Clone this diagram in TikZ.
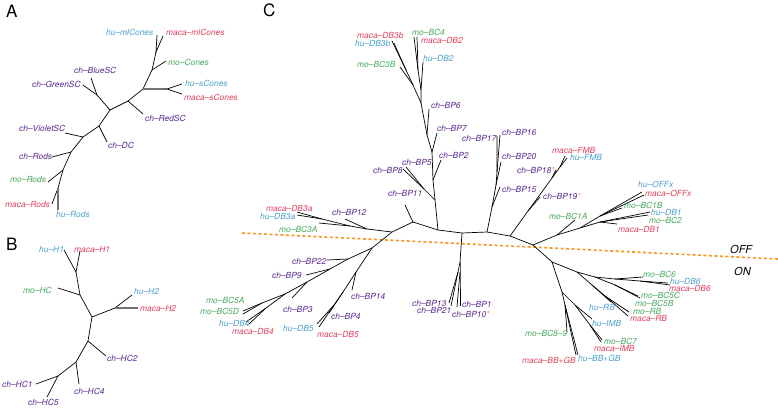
\documentclass[tikz,border=0pt]{standalone}
\usepackage{fontspec}
\newfontfamily\heros{TeX Gyre Heros}
\usepackage{tikz}
\definecolor{chcol}{RGB}{90,40,145}
\definecolor{hucol}{RGB}{75,160,205}
\definecolor{macacol}{RGB}{225,65,95}
\definecolor{mocol}{RGB}{70,170,95}
\definecolor{offon}{RGB}{247,150,30}
\newcommand\orast{\textcolor{offon}{*}}
\tikzset{
  br/.style={line width=0.7pt},
  gbr/.style={line width=2pt,draw=black!55},
  lab/.style={font=\heros\itshape\fontsize{8.4}{9}\selectfont,inner sep=0pt,anchor=west},
  chlab/.style={lab,text=chcol},
  hulab/.style={lab,text=hucol},
  macalab/.style={lab,text=macacol},
  molab/.style={lab,text=mocol},
  panel/.style={font=\heros\fontsize{17}{17}\selectfont,inner sep=0pt,anchor=north west},
  swlab/.style={font=\heros\itshape\fontsize{11}{11}\selectfont,inner sep=0pt,anchor=west},
  divide/.style={draw=offon,line width=1.6pt,dash pattern=on 3pt off 2.5pt},
}
\begin{document}
\begin{tikzpicture}[x=1pt,y=-1pt]
  \useasboundingbox (0,0) rectangle (778,408);

  % A
  \node[panel] (pA) at (6,5) {A};
  \coordinate (a1) at (156,52);
  \coordinate (a2) at (152,70);
  \coordinate (a3) at (143,89);
  \coordinate (a4) at (167,89);
  \coordinate (a5) at (128,101);
  \coordinate (a6) at (110,110);
  \coordinate (a7) at (97,95);
  \coordinate (a8) at (99,126);
  \coordinate (a9) at (83,137);
  \coordinate (a10) at (71,152);
  \coordinate (a11) at (63,170);
  \coordinate (a12) at (58,188);
  \coordinate (t-humlc) at (157,35);
  \coordinate (t-macamlc) at (163,36);
  \coordinate (t-mocones) at (166,61);
  \coordinate (t-huscones) at (182,84);
  \coordinate (t-macascones) at (182,94);
  \coordinate (t-redsc) at (143,114);
  \coordinate (t-bluesc) at (91,78);
  \coordinate (t-greensc) at (83,85);
  \coordinate (t-dc) at (107,142);
  \coordinate (t-violetsc) at (65,133);
  \coordinate (t-chrods) at (52,157);
  \coordinate (t-morods) at (48,182);
  \coordinate (t-macarods) at (52,204);
  \coordinate (t-hurods) at (58,210);
  \draw[br] (t-humlc) -- (a1) -- (t-macamlc);
  \draw[br] (a1) -- (a2) -- (a3) -- (a5) -- (a6) -- (a8) -- (a9) -- (a10) -- (a11) -- (a12) -- (t-macarods);
  \draw[br] (a2) -- (t-mocones);
  \draw[gbr] (a3) -- (a4);
  \draw[br] (t-huscones) -- (a4) -- (t-macascones);
  \draw[br] (a5) -- (t-redsc);
  \draw[br] (a6) -- (a7) -- (t-bluesc);
  \draw[br] (a7) -- (t-greensc);
  \draw[br] (a8) -- (t-dc);
  \draw[br] (a9) -- (t-violetsc);
  \draw[br] (a10) -- (t-chrods);
  \draw[br] (a11) -- (t-morods);
  \draw[gbr] (a12) -- (t-hurods);
  \node[hulab] (l-humlc) at (106,32) {hu–mlCones};
  \node[macalab] (l-macamlc) at (166,32) {maca–mlCones};
  \node[molab] (l-mocones) at (168,62) {mo–Cones};
  \node[hulab] (l-huscones) at (185,83) {hu–sCones};
  \node[macalab] (l-macascones) at (184,97) {maca–sCones};
  \node[chlab] (l-redsc) at (145,118) {ch–RedSC};
  \node[chlab] (l-bluesc) at (74,70) {ch–BlueSC};
  \node[chlab] (l-greensc) at (32,84) {ch–GreenSC};
  \node[chlab] (l-dc) at (108,145) {ch–DC};
  \node[chlab] (l-violetsc) at (19,128) {ch–VioletSC};
  \node[chlab] (l-chrods) at (19,156) {ch–Rods};
  \node[molab] (l-morods) at (10,179) {mo–Rods};
  \node[macalab] (l-macarods) at (5,204) {maca–Rods};
  \node[hulab] (l-hurods) at (56,214) {hu–Rods};

  % B
  \node[panel] (pB) at (6,238) {B};
  \coordinate (b1) at (76,272);
  \coordinate (b2) at (80,295);
  \coordinate (b3) at (92,317);
  \coordinate (b4) at (115,308);
  \coordinate (b5) at (88,341);
  \coordinate (b6) at (76,362);
  \coordinate (b7) at (58,376);
  \coordinate (t-huh1) at (64,250);
  \coordinate (t-macah1) at (80,251);
  \coordinate (t-mohc) at (58,288);
  \coordinate (t-huh2) at (132,295);
  \coordinate (t-macah2) at (138,308);
  \coordinate (t-hc2) at (106,356);
  \coordinate (t-hc4) at (79,384);
  \coordinate (t-hc1) at (36,384);
  \coordinate (t-hc5) at (47,397);
  \draw[br] (t-huh1) -- (b1) -- (t-macah1);
  \draw[br] (b1) -- (b2) -- (b3) -- (b5) -- (b6) -- (b7) -- (t-hc1);
  \draw[br] (b2) -- (t-mohc);
  \draw[br] (b3) -- (b4) -- (t-huh2);
  \draw[gbr] (b4) -- (t-macah2);
  \draw[br] (b5) -- (t-hc2);
  \draw[br] (b6) -- (t-hc4);
  \draw[br] (b7) -- (t-hc5);
  \node[hulab] (l-huh1) at (39,249) {hu–H1};
  \node[macalab] (l-macah1) at (74,249) {maca–H1};
  \node[molab] (l-mohc) at (23,290) {mo–HC};
  \node[hulab] (l-huh2) at (134,291) {hu–H2};
  \node[macalab] (l-macah2) at (140,308) {maca–H2};
  \node[chlab] (l-hc2) at (107,358) {ch–HC2};
  \node[chlab] (l-hc4) at (74,391) {ch–HC4};
  \node[chlab] (l-hc1) at (2,384) {ch–HC1};
  \node[chlab] (l-hc5) at (28,402) {ch–HC5};

  % C
  \node[panel] (pC) at (263,4) {C};
  \coordinate (dl) at (242,233);
  \coordinate (dr) at (778,259);
  \draw[divide] (dl) -- (dr);
  \node[swlab] (off) at (730,249) {OFF};
  \node[swlab] (on) at (734,271) {ON};

  \coordinate (cL) at (392,232);
  \coordinate (c11) at (413,222);
  \coordinate (c5) at (438,230);
  \coordinate (cD) at (462,233);
  \coordinate (c15) at (487,232);
  \coordinate (c19) at (510,236);
  \coordinate (cR) at (533,245);
  \coordinate (t-bp11) at (405,205);
  \draw[br] (cL) -- (c11) -- (c5) -- (cD) -- (c15) -- (c19) -- (cR);
  \draw[br] (c11) -- (t-bp11);

  \coordinate (c3a) at (367,229);
  \coordinate (c3b) at (350,226);
  \coordinate (c3c) at (322,219);
  \coordinate (t-bp12) at (345,219);
  \coordinate (t-mdb3a) at (297,212);
  \coordinate (t-hdb3a) at (297,215);
  \coordinate (t-bc3a) at (319,223);
  \draw[br] (cL) -- (c3a) -- (c3b) -- (c3c) -- (t-mdb3a);
  \draw[br] (c3c) -- (t-hdb3a);
  \draw[br] (c3b) -- (t-bc3a);
  \draw[br] (c3a) -- (t-bp12);

  \coordinate (cO) at (372,248);
  \coordinate (c22) at (348,259);
  \coordinate (c9) at (330,269);
  \coordinate (c3) at (307,282);
  \coordinate (c5a) at (285,294);
  \coordinate (c5ad) at (262,303);
  \coordinate (c4) at (266,308);
  \coordinate (t-bp22) at (327,260);
  \coordinate (t-bp9) at (306,275);
  \coordinate (t-bp3) at (292,298);
  \coordinate (t-bc5a) at (243,311);
  \coordinate (t-bc5d) at (243,314);
  \coordinate (t-hdb4) at (246,322);
  \coordinate (t-mdb4) at (249,324);
  \draw[br] (cL) -- (cO) -- (c22) -- (c9) -- (c3) -- (c5a) -- (c5ad) -- (t-bc5a);
  \draw[br] (c5ad) -- (t-bc5d);
  \draw[br] (c5a) -- (c4) -- (t-hdb4);
  \draw[br] (c4) -- (t-mdb4);
  \draw[br] (c22) -- (t-bp22);
  \draw[br] (c9) -- (t-bp9);
  \draw[br] (c3) -- (t-bp3);

  \coordinate (c14) at (356,272);
  \coordinate (c4b) at (343,292);
  \coordinate (c5db) at (334,305);
  \coordinate (t-bp14) at (352,290);
  \coordinate (t-bp4) at (329,313);
  \coordinate (t-hdb5) at (317,324);
  \coordinate (t-mdb5) at (319,327);
  \draw[br] (cO) -- (c14) -- (c4b) -- (c5db) -- (t-hdb5);
  \draw[br] (c5db) -- (t-mdb5);
  \draw[br] (c4b) -- (t-bp4);
  \draw[br] (c14) -- (t-bp14);

  \coordinate (cDd) at (460,262);
  \coordinate (c1321) at (458,272);
  \coordinate (c110) at (460,272);
  \coordinate (t-bp13) at (449,303);
  \coordinate (t-bp21) at (451,306);
  \coordinate (t-bp1) at (460,306);
  \coordinate (t-bp10) at (457,307);
  \draw[br] (cD) -- (cDd) -- (c1321) -- (t-bp13);
  \draw[br] (c1321) -- (t-bp21);
  \draw[br] (cDd) -- (c110) -- (t-bp1);
  \draw[br] (c110) -- (t-bp10);

  \coordinate (c58) at (435,200);
  \coordinate (c85) at (424,189);
  \coordinate (c2) at (433,180);
  \coordinate (c7) at (432,152);
  \coordinate (c6) at (427,135);
  \coordinate (cT) at (421,103);
  \coordinate (t-bp8) at (403,169);
  \coordinate (t-bp5) at (406,167);
  \coordinate (t-bp2) at (441,160);
  \coordinate (t-bp7) at (437,133);
  \coordinate (t-bp6) at (429,109);
  \draw[br] (c5) -- (c58) -- (c2) -- (c7) -- (c6) -- (cT);
  \draw[br] (c58) -- (c85) -- (t-bp8);
  \draw[br] (c85) -- (t-bp5);
  \draw[br] (c2) -- (t-bp2);
  \draw[br] (c7) -- (t-bp7);
  \draw[br] (c6) -- (t-bp6);

  \coordinate (c2b) at (421,90);
  \coordinate (cbc4) at (418,70);
  \coordinate (c3bb) at (413,85);
  \coordinate (cdb3b) at (406,70);
  \coordinate (t-bc4) at (414,37);
  \coordinate (t-mdb2) at (417,37);
  \coordinate (t-hdb2) at (423,62);
  \coordinate (t-mdb3b) at (392,41);
  \coordinate (t-hdb3b) at (394,43);
  \coordinate (t-bc3b) at (400,67);
  \draw[br] (cT) -- (c2b) -- (cbc4) -- (t-bc4);
  \draw[br] (cbc4) -- (t-mdb2);
  \draw[br] (c2b) -- (t-hdb2);
  \draw[br] (cT) -- (c3bb) -- (cdb3b) -- (t-mdb3b);
  \draw[br] (cdb3b) -- (t-hdb3b);
  \draw[br] (c3bb) -- (t-bc3b);

  \coordinate (j15) at (492,207);
  \coordinate (j20) at (496,185);
  \coordinate (j1617) at (497,172);
  \coordinate (t-bp15) at (500,187);
  \coordinate (t-bp20) at (501,162);
  \coordinate (t-bp17) at (497,136);
  \coordinate (t-bp16) at (500,135);
  \draw[br] (c15) -- (j15) -- (j20) -- (j1617) -- (t-bp17);
  \draw[br] (j1617) -- (t-bp16);
  \draw[br] (j20) -- (t-bp20);
  \draw[br] (j15) -- (t-bp15);

  \coordinate (j19) at (528,211);
  \coordinate (j18) at (552,178);
  \coordinate (jfmb) at (560,167);
  \coordinate (t-bp19) at (540,197);
  \coordinate (t-bp18) at (556,170);
  \coordinate (t-mfmb) at (565,156);
  \coordinate (t-hfmb) at (567,158);
  \draw[br] (c19) -- (j19) -- (j18) -- (jfmb) -- (t-mfmb);
  \draw[br] (jfmb) -- (t-hfmb);
  \draw[br] (j18) -- (t-bp18);
  \draw[br] (j19) -- (t-bp19);

  \coordinate (j1a) at (557,235);
  \coordinate (jr2) at (580,228);
  \coordinate (joff) at (600,216);
  \coordinate (jdb) at (600,222);
  \coordinate (t-bc1a) at (575,220);
  \coordinate (t-hoffx) at (642,192);
  \coordinate (t-moffx) at (644,195);
  \coordinate (t-bc1b) at (622,208);
  \coordinate (t-hdb1) at (650,212);
  \coordinate (t-bc2) at (648,215);
  \coordinate (t-mdb1) at (617,224);
  \draw[br] (cR) -- (j1a) -- (t-bc1a);
  \draw[br] (j1a) -- (jr2) -- (joff) -- (t-hoffx);
  \draw[br] (joff) -- (t-moffx);
  \draw[br] (joff) -- (t-bc1b);
  \draw[br] (jr2) -- (jdb) -- (t-hdb1);
  \draw[br] (jdb) -- (t-bc2);
  \draw[br] (jdb) -- (t-mdb1);

  \coordinate (jon) at (552,262);
  \coordinate (ja) at (577,272);
  \coordinate (jb) at (595,277);
  \coordinate (jbc6) at (615,279);
  \coordinate (jdb6) at (640,281);
  \coordinate (jbc5) at (615,285);
  \coordinate (jrb) at (592,285);
  \coordinate (jrb2) at (605,296);
  \coordinate (jc) at (562,292);
  \coordinate (jimb) at (575,305);
  \coordinate (jbc7) at (590,325);
  \coordinate (jbb) at (565,305);
  \coordinate (t-bc6) at (643,277);
  \coordinate (t-hdb6) at (668,283);
  \coordinate (t-mdb6) at (670,285);
  \coordinate (t-bc5c) at (638,296);
  \coordinate (t-bc5b) at (640,298);
  \coordinate (t-hrb) at (611,302);
  \coordinate (t-mrb) at (629,312);
  \coordinate (t-marb) at (628,316);
  \coordinate (t-himb) at (592,319);
  \coordinate (t-bc7) at (602,340);
  \coordinate (t-mimb) at (601,342);
  \coordinate (t-bc89) at (567,332);
  \coordinate (t-mbbgb) at (576,355);
  \coordinate (t-hbbgb) at (578,355);
  \draw[br] (cR) -- (jon) -- (ja) -- (jb) -- (jbc6) -- (t-bc6);
  \draw[br] (jbc6) -- (jdb6) -- (t-hdb6);
  \draw[br] (jdb6) -- (t-mdb6);
  \draw[br] (jb) -- (jbc5) -- (t-bc5c);
  \draw[br] (jbc5) -- (t-bc5b);
  \draw[br] (ja) -- (jrb) -- (t-hrb);
  \draw[br] (jrb) -- (jrb2) -- (t-mrb);
  \draw[br] (jrb2) -- (t-marb);
  \draw[br] (jon) -- (jc) -- (jimb) -- (t-himb);
  \draw[br] (jimb) -- (jbc7) -- (t-bc7);
  \draw[br] (jbc7) -- (t-mimb);
  \draw[br] (jc) -- (jbb) -- (t-bc89);
  \draw[br] (jbb) -- (t-mbbgb);
  \draw[br] (jbb) -- (t-hbbgb);

  \node[macalab] (l-mdb3b) at (357,35) {maca–DB3b};
  \node[hulab] (l-hdb3b) at (355,43) {hu–DB3b};
  \node[molab] (l-bc3b) at (357,64) {mo–BC3B};
  \node[molab] (l-bc4) at (412,32) {mo–BC4};
  \node[macalab] (l-mdb2) at (421,40) {maca–DB2};
  \node[hulab] (l-hdb2) at (423,58) {hu–DB2};
  \node[chlab] (l-bp6) at (431,105) {ch–BP6};
  \node[chlab] (l-bp7) at (437,128) {ch–BP7};
  \node[chlab] (l-bp2) at (439,155) {ch–BP2};
  \node[chlab] (l-bp5) at (402,162) {ch–BP5};
  \node[chlab] (l-bp8) at (373,170) {ch–BP8};
  \node[chlab] (l-bp11) at (388,193) {ch–BP11};
  \node[chlab] (l-bp17) at (462,138) {ch–BP17};
  \node[chlab] (l-bp16) at (502,132) {ch–BP16};
  \node[chlab] (l-bp20) at (502,156) {ch–BP20};
  \node[chlab] (l-bp15) at (502,189) {ch–BP15};
  \node[macalab] (l-mfmb) at (552,150) {maca–FMB};
  \node[hulab] (l-hfmb) at (570,157) {hu–FMB};
  \node[chlab] (l-bp18) at (517,170) {ch–BP18\orast};
  \node[chlab] (l-bp19) at (543,196) {ch–BP19\orast};
  \node[hulab] (l-hoffx) at (638,184) {hu–OFFx};
  \node[macalab] (l-moffx) at (645,193) {maca–OFFx};
  \node[molab] (l-bc1b) at (624,205) {mo–BC1B};
  \node[hulab] (l-hdb1) at (651,212) {hu–DB1};
  \node[molab] (l-bc2) at (649,220) {mo–BC2};
  \node[macalab] (l-mdb1) at (618,229) {maca–DB1};
  \node[molab] (l-bc1a) at (549,216) {mo–BC1A};
  \node[macalab] (l-mdb3a) at (266,208) {maca–DB3a};
  \node[hulab] (l-hdb3a) at (260,216) {hu–DB3a};
  \node[molab] (l-bc3a) at (279,229) {mo–BC3A};
  \node[chlab] (l-bp12) at (332,212) {ch–BP12};
  \node[chlab] (l-bp22) at (292,261) {ch–BP22};
  \node[chlab] (l-bp9) at (272,275) {ch–BP9};
  \node[chlab] (l-bp3) at (283,309) {ch–BP3};
  \node[molab] (l-bc5a) at (206,300) {mo–BC5A};
  \node[molab] (l-bc5d) at (200,311) {mo–BC5D};
  \node[hulab] (l-hdb4) at (219,323) {hu–DB4};
  \node[macalab] (l-mdb4) at (232,331) {maca–DB4};
  \node[chlab] (l-bp14) at (351,296) {ch–BP14};
  \node[chlab] (l-bp4) at (331,316) {ch–BP4};
  \node[hulab] (l-hdb5) at (283,328) {hu–DB5};
  \node[macalab] (l-mdb5) at (317,334) {maca–DB5};
  \node[chlab] (l-bp13) at (412,303) {ch–BP13};
  \node[chlab] (l-bp21) at (417,310) {ch–BP21};
  \node[chlab] (l-bp1) at (462,304) {ch–BP1};
  \node[chlab] (l-bp10) at (452,314) {ch–BP10\orast};
  \node[molab] (l-bc6) at (643,274) {mo–BC6};
  \node[hulab] (l-hdb6) at (670,281) {hu–DB6};
  \node[macalab] (l-mdb6) at (669,288) {maca–DB6};
  \node[molab] (l-bc5c) at (641,295) {mo–BC5C};
  \node[molab] (l-bc5b) at (635,303) {mo–BC5B};
  \node[molab] (l-mrb) at (633,311) {mo–RB};
  \node[macalab] (l-marb) at (630,318) {maca–RB};
  \node[hulab] (l-hrb) at (589,307) {hu–RB};
  \node[hulab] (l-himb) at (592,323) {hu–IMB};
  \node[molab] (l-bc7) at (604,341) {mo–BC7};
  \node[macalab] (l-mimb) at (594,348) {maca–IMB};
  \node[molab] (l-bc89) at (525,333) {mo–BC8–9};
  \node[macalab] (l-mbbgb) at (522,360) {maca–BB+GB};
  \node[hulab] (l-hbbgb) at (578,358) {hu–BB+GB};
\end{tikzpicture}
\end{document}
